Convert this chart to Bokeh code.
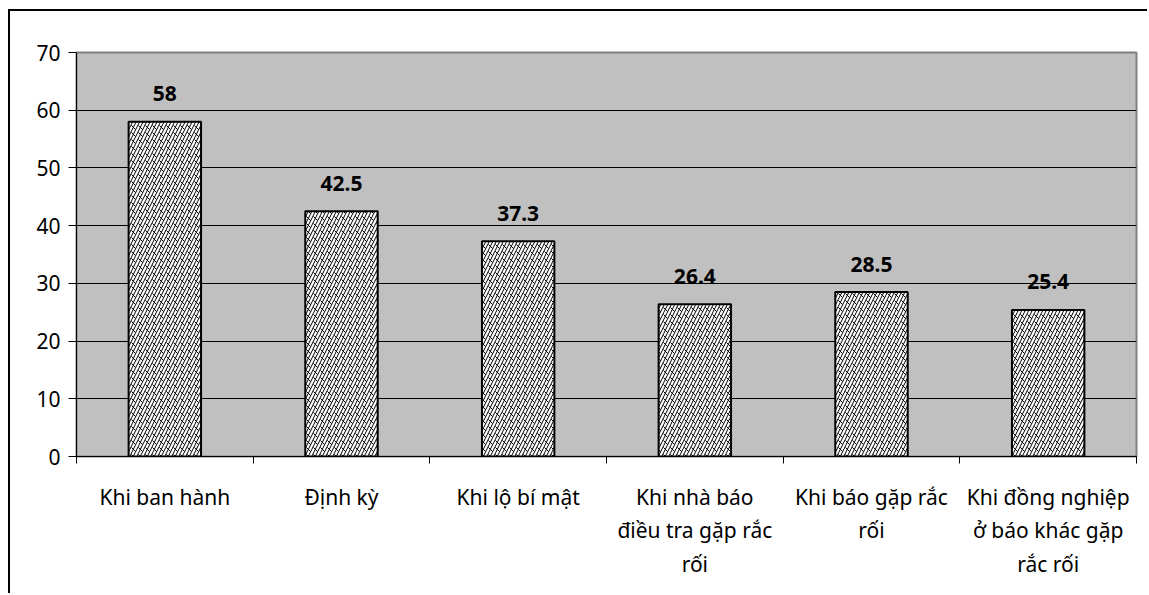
from bokeh.plotting import figure
from bokeh.models import ColumnDataSource, FixedTicker, Range1d
from bokeh.core.properties import value
from bokeh.embed import file_html
from bokeh.resources import INLINE

categories = ["Khi ban hành", "Định kỳ", "Khi lộ bí mật",
              "Khi nhà báo điều tra gặp rắc rối", "Khi báo gặp rắc rối",
              "Khi đồng nghiệp ở báo khác gặp rắc rối"]
tick_labels = ["Khi ban hành", "Định kỳ", "Khi lộ bí mật",
               "Khi nhà báo\nđiều tra gặp rắc\nrối", "Khi báo gặp rắc\nrối",
               "Khi đồng nghiệp\nở báo khác gặp\nrắc rối"]
values = [58, 42.5, 37.3, 26.4, 28.5, 25.4]
y_ticks = [0, 10, 20, 30, 40, 50, 60, 70]

FONT = "Noto Sans"

n = len(categories)
centers = [i + 0.5 for i in range(n)]
bounds = [float(i) for i in range(n + 1)]

src = ColumnDataSource(dict(x=centers, top=values, cat=categories,
                            lbl=[f"{v:g}" for v in values]))

p = figure(width=1139, height=584, output_backend="svg", toolbar_location=None,
           x_range=Range1d(0, n), y_range=Range1d(0, 70),
           min_border_left=66, min_border_top=41, min_border_right=13,
           min_border_bottom=139)
p.background_fill_color = "#C0C0C0"
p.border_fill_color = "white"
p.outline_line_color = "#808080"
p.outline_line_width = 2
p.styles = {"border-left": "2px solid black", "border-top": "2px solid black",
            "margin-left": "8px", "margin-top": "9px"}

p.vbar(x="x", top="top", width=0.41, source=src, fill_color="white",
       line_color=None, hatch_pattern="right_diagonal_line", hatch_scale=7,
       hatch_weight=1.0, hatch_color="black")
p.vbar(x="x", top="top", width=0.41, source=src, fill_alpha=0,
       line_color="black", line_width=2, hatch_pattern="left_diagonal_dash",
       hatch_scale=7, hatch_weight=1.0, hatch_color="black")

p.text(x="x", y="top", text="lbl", source=src, y_offset=-28,
       text_align="center", text_baseline="alphabetic",
       text_font=value(FONT), text_font_style="bold", text_font_size="21px",
       text_color="black")

p.xgrid.visible = False
p.ygrid.grid_line_color = "black"
p.ygrid.grid_line_width = 1
p.ygrid.ticker = FixedTicker(ticks=y_ticks)

ya = p.yaxis[0]
ya.ticker = FixedTicker(ticks=y_ticks)
ya.axis_line_color = "black"
ya.major_tick_out = 8
ya.major_tick_in = 0
ya.minor_tick_line_color = None
ya.major_label_text_font = FONT
ya.major_label_text_font_size = "21px"
ya.major_label_text_color = "black"
ya.major_label_standoff = 8

xa = p.xaxis[0]
xa.ticker = FixedTicker(ticks=centers, minor_ticks=bounds)
xa.major_tick_line_color = None
xa.minor_tick_line_color = "black"
xa.minor_tick_out = 7
xa.minor_tick_in = 0
xa.axis_line_color = "black"
xa.major_label_overrides = {c: t for c, t in zip(centers, tick_labels)}
xa.major_label_text_font = FONT
xa.major_label_text_font_size = "21px"
xa.major_label_text_color = "black"
xa.major_label_standoff = 19

open("out.html", "w").write(file_html(p, INLINE))
